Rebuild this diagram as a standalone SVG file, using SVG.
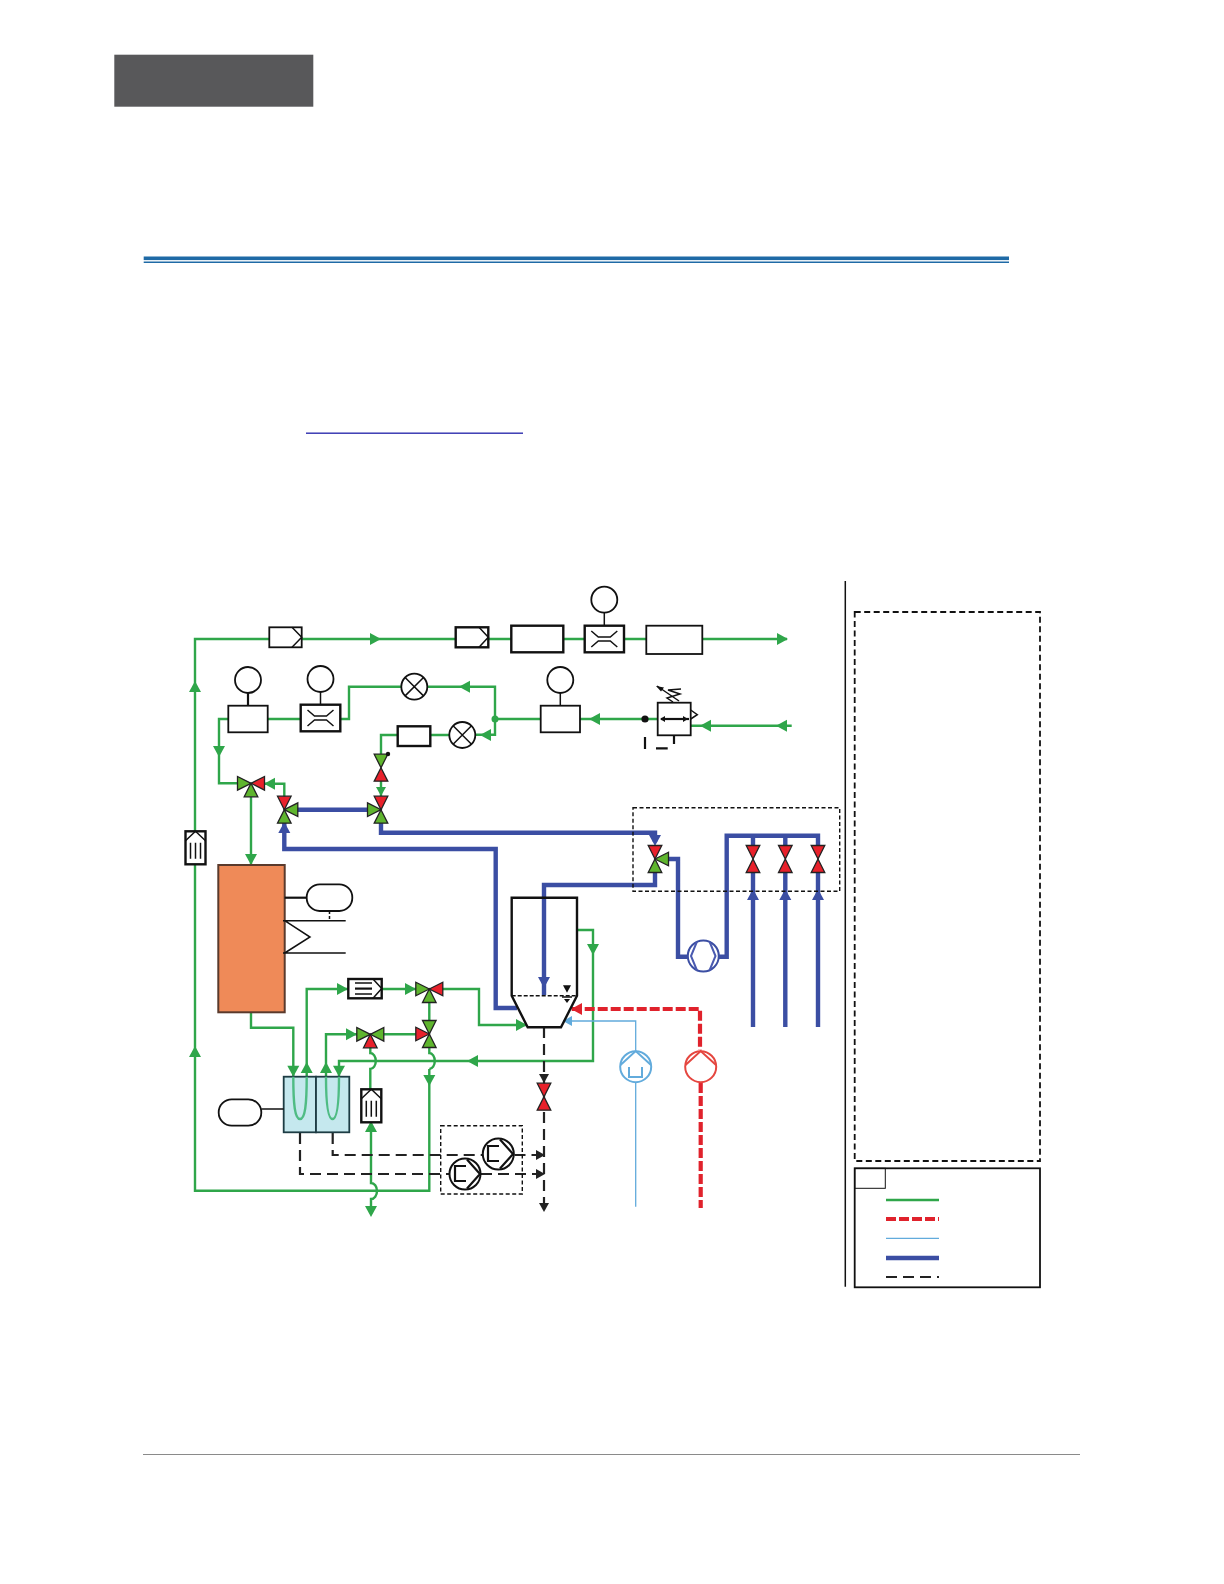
<svg xmlns="http://www.w3.org/2000/svg" xmlns:xlink="http://www.w3.org/1999/xlink" width="1224" height="1584" viewBox="0 0 1224 1584">
<style>
.pg{fill:none;stroke:#2fa64a;stroke-width:2.4}
.pb{fill:none;stroke:#3b4ea3;stroke-width:4.4}
.pr{fill:none;stroke:#e0222c;stroke-width:4.2;stroke-dasharray:10 3}
.pl{fill:none;stroke:#62abdc;stroke-width:1.3}
.pk{fill:none;stroke:#222;stroke-width:2.2;stroke-dasharray:11 6}
.box{fill:#fff;stroke:#111;stroke-width:1.8}
.bx2{fill:#fff;stroke:#111;stroke-width:2.4}
.ln{fill:none;stroke:#111;stroke-width:1.5}
.ln2{fill:none;stroke:#111;stroke-width:2.2}
.dash{fill:none;stroke:#111;stroke-width:1.4;stroke-dasharray:4 2.500}
.vg{fill:#5fb52e;stroke:#222;stroke-width:1.3}
.vr{fill:#e8212b;stroke:#222;stroke-width:1.3}
.ag{fill:#2fa64a}.ab{fill:#3b4ea3}.ar{fill:#e0222c}.al{fill:#62abdc}.ak{fill:#222}
</style>
<defs>
<polygon id="t" points="0,0 -6.800,-13.500 6.800,-13.500"/>
<polygon id="a" points="0,0 -9,-5 -9,5"/>
<polygon id="A" points="0,0 -11,-6 -11,6"/>
<g id="flt"><rect class="bx2" x="-10" y="-16.500" width="20" height="33"/><path class="ln" d="M-10,-7 L0,-16.500 L10,-7"/><path class="ln" d="M-5,-5V11M0,-5V11M5,-5V11"/></g>
<g id="flow"><path class="ln" d="M-13,-8 L-6,-2 H6 L13,-8M-13,8 L-6,2 H6 L13,8"/></g>
</defs>
<rect width="1224" height="1584" fill="#fff"/>
<rect x="114.300" y="54.700" width="199" height="52" fill="#58585a"/>
<rect x="143.700" y="256.500" width="865.300" height="3.600" fill="#1f6aa6"/>
<rect x="143.700" y="261.500" width="865.300" height="1.500" fill="#1f6aa6"/>
<rect x="306" y="432.500" width="217" height="1.400" fill="#2f2fae"/>
<rect x="143" y="1454" width="937" height="1" fill="#8a8a8a"/>

<g id="connectors">
<path class="pg" d="M195,864V1190.700H429.300V1069"/>
<path class="pg" d="M429.300,1047V1053a5.500,8 0 0 1 0,16"/>
<path class="pg" d="M195,831.700V639H269M302,639H456M488,639H511M563,639H585M624,639H646M702,639H787"/>
<path class="pg" d="M371,1122V1183a6,8 0 0 1 0,16V1214"/>
<path class="pg" d="M370.300,1047V1053a5.500,8 0 0 1 0,16V1089"/>
<path class="pg" d="M267.700,719H300.700M340.300,719H349V686.700H401M427,686.700H495V734.700H475M495,719H540.700M580,719H657.700M690.700,725.700H791.700"/>
<path class="pg" d="M449.300,735H430M398,735H381V754M381,781V796"/>
<path class="pg" d="M228.300,719H219V783.300H238M284.300,797V783.700H264M251,797V865"/>
<path class="pg" d="M251,1012.300V1027.700H293.300V1076.700"/>
<path class="pg" d="M306.700,1076.700V989H348M381.700,989H416M442,989H479V1025H527"/>
<path class="pg" d="M326,1076.700V1034.300H357M384,1034.300H416M429.300,1002V1020"/>
<path class="pg" d="M577,930H593V1061H339V1076.700"/>
<path class="pb" d="M297,809.700H368M284.300,823V849H495.700V1008H517M381,823V832.700H655V842M668,859H678V956.700H687M719,956.700H726.700V835.700H818V846M753,835.700V846M785.300,835.700V846M753,872V1027M785.300,872V1027M818,872V1027M655,872V885H544V995"/>
<path class="pr" d="M571.700,1009H700V1050"/>
<path class="pr" d="M700.700,1083V1208"/>
<path class="pl" d="M563,1021H635.700V1050M635.700,1083V1206.700"/>
<path class="pk" d="M544,1027V1208"/>
<path class="pk" d="M332.700,1133V1155H482M514.500,1155H544"/>
<path class="pk" d="M300,1133V1174H449M481,1174H544"/>
<g class="ag">
<use href="#A" transform="translate(381,639)"/><use href="#A" transform="translate(195,681) rotate(-90)"/><use href="#A" transform="translate(195,1046) rotate(-90)"/>
<use href="#A" transform="translate(788,639)"/><use href="#A" transform="translate(459,686.700) rotate(180)"/><use href="#A" transform="translate(480,735) rotate(180)"/>
<use href="#a" transform="translate(381,796) rotate(90)"/><use href="#A" transform="translate(219,757) rotate(90)"/><use href="#A" transform="translate(264,783.700) rotate(180)"/>
<use href="#A" transform="translate(251,865) rotate(90)"/><use href="#A" transform="translate(589,719) rotate(180)"/><use href="#A" transform="translate(700,725.700) rotate(180)"/><use href="#A" transform="translate(776,725.700) rotate(180)"/>
<use href="#A" transform="translate(293.300,1076.700) rotate(90)"/><use href="#A" transform="translate(306.700,1062) rotate(-90)"/><use href="#A" transform="translate(326,1062) rotate(-90)"/><use href="#A" transform="translate(339,1076.700) rotate(90)"/>
<use href="#A" transform="translate(348,989)"/><use href="#A" transform="translate(416,989)"/><use href="#A" transform="translate(357,1034.300)"/><use href="#A" transform="translate(429.300,1086) rotate(90)"/>
<use href="#A" transform="translate(371,1121) rotate(-90)"/><use href="#A" transform="translate(371,1217) rotate(90)"/><use href="#A" transform="translate(527,1025)"/><use href="#A" transform="translate(593,955) rotate(90)"/><use href="#A" transform="translate(467,1061) rotate(180)"/>
</g>
<g class="ab">
<use href="#A" transform="translate(284.300,822) rotate(-90)"/><use href="#A" transform="translate(655,846) rotate(90)"/><use href="#A" transform="translate(544,988) rotate(90)"/>
<use href="#A" transform="translate(753,889) rotate(-90)"/><use href="#A" transform="translate(785.300,889) rotate(-90)"/><use href="#A" transform="translate(818,889) rotate(-90)"/>
</g>
<use href="#A" class="ar" transform="translate(571,1009) rotate(180)"/>
<use href="#a" class="al" transform="translate(563,1021) rotate(180)"/>
<g class="ak">
<use href="#a" transform="translate(544,1083) rotate(90)"/><use href="#a" transform="translate(544,1212) rotate(90)"/>
<use href="#a" transform="translate(545,1155)"/><use href="#a" transform="translate(545,1174)"/>
</g>
</g>

<g id="dashed-frames">
<rect class="dash" x="633" y="807.700" width="206.700" height="83.600"/>
<rect class="dash" x="440.700" y="1125.700" width="81.600" height="68.300"/>
</g>

<g id="inst-1"><rect class="box" x="269.300" y="627.300" width="32.400" height="20"/><path class="ln" d="M292,627.300L301.700,637.300L292,647.300"/></g>
<g id="inst-2"><rect class="bx2" x="455.700" y="627.300" width="32.600" height="20"/><path class="ln" d="M479,627.300L488.300,637.300L479,647.300"/></g>
<g id="box-top-1"><rect class="bx2" x="511.300" y="625.700" width="52" height="26.600"/></g>
<g id="flow-top"><rect class="bx2" x="584.700" y="625.700" width="39.300" height="26.600"/><use href="#flow" transform="translate(604.300,639)"/><path class="ln" d="M604.300,625.700V612.700"/><circle class="box" cx="604.300" cy="599.700" r="13"/></g>
<g id="box-top-2"><rect class="box" x="646.300" y="625.700" width="56" height="28.300"/></g>
<g id="sensor-left"><rect class="box" x="228.300" y="705.700" width="39.400" height="26.600"/><path class="ln2" d="M248,705.700V693"/><circle class="box" cx="248" cy="680" r="13"/></g>
<g id="flow-left"><rect class="bx2" x="300.700" y="704.700" width="39.600" height="26.600"/><use href="#flow" transform="translate(320.500,718)"/><path class="ln" d="M320.500,704.700V692"/><circle class="box" cx="320.500" cy="679" r="13"/></g>
<g id="sensor-right"><rect class="box" x="540.700" y="705.700" width="39.300" height="26.600"/><path class="ln" d="M560.300,705.700V693"/><circle class="box" cx="560.300" cy="680" r="13"/></g>
<g id="lamp-1"><circle class="box" cx="414.300" cy="686.700" r="13"/><path class="ln" d="M405.100,677.500L423.500,695.900M423.500,677.500L405.100,695.900"/></g>
<g id="lamp-2"><circle class="box" cx="462.300" cy="735" r="13"/><path class="ln" d="M453.100,725.800L471.500,744.200M471.500,725.800L453.100,744.200"/></g>
<g id="box-mid"><rect class="bx2" x="397.700" y="726.300" width="32.600" height="19.700"/></g>
<g id="join-dot"><circle cx="495" cy="719" r="3.500" fill="#2fa64a"/></g>
<g id="regulator">
<circle cx="645" cy="719" r="3.600" fill="#111"/>
<path class="ln2" d="M645,737V749M656,748.300H667.700M674,736V744"/>
<rect class="box" x="657.700" y="702.700" width="33" height="32.600"/>
<path class="ln2" d="M661,719H689"/>
<path fill="#111" d="M660,719l5,-3v6zM688,719l-5,-3v6z"/>
<path class="ln" d="M673,702L667,698L680,694L668,690L681,689"/>
<path class="ln" d="M690.700,710L697.300,714.700L690.700,719"/>
<path class="ln" d="M679,701L657,686"/><path fill="#111" d="M656,686l8,1.500l-3,4z"/>
</g>

<g id="valve-a"><use href="#t" class="vg" transform="translate(251,783.300) rotate(-90)"/><use href="#t" class="vr" transform="translate(251,783.300) rotate(90)"/><use href="#t" class="vg" transform="translate(251,783.300) rotate(180)"/></g>
<g id="valve-b"><use href="#t" class="vr" transform="translate(284.300,809.700)"/><use href="#t" class="vg" transform="translate(284.300,809.700) rotate(180)"/><use href="#t" class="vg" transform="translate(284.300,809.700) rotate(90)"/></g>
<g id="valve-c"><use href="#t" class="vr" transform="translate(381,809.700)"/><use href="#t" class="vg" transform="translate(381,809.700) rotate(180)"/><use href="#t" class="vg" transform="translate(381,809.700) rotate(-90)"/></g>
<g id="valve-d"><use href="#t" class="vg" transform="translate(381,767.700)"/><use href="#t" class="vr" transform="translate(381,767.700) rotate(180)"/><circle cx="388" cy="754" r="2.200" fill="#111"/></g>
<g id="valve-e"><use href="#t" class="vr" transform="translate(655,859)"/><use href="#t" class="vg" transform="translate(655,859) rotate(180)"/><use href="#t" class="vg" transform="translate(655,859) rotate(90)"/></g>
<g id="valve-f"><use href="#t" class="vr" transform="translate(753,859)"/><use href="#t" class="vr" transform="translate(753,859) rotate(180)"/></g>
<g id="valve-g"><use href="#t" class="vr" transform="translate(785.300,859)"/><use href="#t" class="vr" transform="translate(785.300,859) rotate(180)"/></g>
<g id="valve-h"><use href="#t" class="vr" transform="translate(818,859)"/><use href="#t" class="vr" transform="translate(818,859) rotate(180)"/></g>
<g id="valve-i"><use href="#t" class="vg" transform="translate(429.300,989) rotate(-90)"/><use href="#t" class="vr" transform="translate(429.300,989) rotate(90)"/><use href="#t" class="vg" transform="translate(429.300,989) rotate(180)"/></g>
<g id="valve-j"><use href="#t" class="vg" transform="translate(429.300,1034)"/><use href="#t" class="vg" transform="translate(429.300,1034) rotate(180)"/><use href="#t" class="vr" transform="translate(429.300,1034) rotate(-90)"/></g>
<g id="valve-k"><use href="#t" class="vg" transform="translate(370.300,1034.300) rotate(90)"/><use href="#t" class="vg" transform="translate(370.300,1034.300) rotate(-90)"/><use href="#t" class="vr" transform="translate(370.300,1034.300) rotate(180)"/></g>
<g id="valve-l"><use href="#t" class="vr" transform="translate(544,1096.700)"/><use href="#t" class="vr" transform="translate(544,1096.700) rotate(180)"/></g>

<g id="filter-left"><use href="#flt" transform="translate(195.500,847.800)"/></g>
<g id="filter-low"><use href="#flt" transform="translate(371.300,1105.800)"/></g>

<g id="heater"><rect x="218.300" y="865" width="66.400" height="147.300" fill="#ef8a58" stroke="#5a3a2c" stroke-width="2"/></g>
<g id="tank-top"><path class="ln2" d="M284.700,897.700H306.700"/><rect class="box" x="306.700" y="884.300" width="45.600" height="26.700" rx="13"/><path class="ln" stroke-dasharray="3 2" d="M329.500,911V921"/><path class="ln" d="M283,920.700H345.700M283,953H345.700M284.700,920.700L310,937L284.700,953"/></g>
<g id="strainer"><rect class="bx2" x="348.300" y="979" width="33.400" height="19.300"/><path class="ln" d="M373,979L381.700,988.600L373,998.300"/><path class="ln" d="M355,983H372M355,994H372"/><path class="ln2" d="M355,988.600H372"/></g>
<g id="exchanger">
<rect x="283.700" y="1076.700" width="32.300" height="55.600" fill="#c5e8ee" stroke="#1d3c44" stroke-width="1.800"/>
<rect x="316" y="1076.700" width="33.300" height="55.600" fill="#c5e8ee" stroke="#1d3c44" stroke-width="1.800"/>
<path fill="none" stroke="#4fbc84" stroke-width="2.400" d="M293.300,1076.700C293.300,1105 295,1119 300,1119C305,1119 306.700,1105 306.700,1076.700M326,1076.700C326,1105 328,1119 332.500,1119C337,1119 339,1105 339,1076.700"/>
</g>
<g id="tank-low"><rect class="box" x="218.700" y="1099.300" width="42.600" height="26.400" rx="13"/><path class="ln" d="M261.300,1109H283.700"/></g>
<g id="vessel"><path fill="none" stroke="#111" stroke-width="2.400" d="M511.700,897.700H577V995.700L561,1027.300H527.700L511.700,995.700Z"/><path class="ln" stroke-dasharray="4 2" d="M511.700,995.700H577"/><path fill="#111" d="M563,985.300H571L567,992.700Z"/><path class="ln" d="M562,997H572"/><path fill="#111" d="M564,999H570L567,1003Z"/></g>
<g id="pump-blue"><circle cx="703.300" cy="956" r="15.500" fill="#fff" stroke="#3b4ea3" stroke-width="2"/><path fill="none" stroke="#4a5ab0" stroke-width="2" d="M697,941.500L691,956L697,970.500M709.500,941.500L715.500,956L709.500,970.500"/></g>
<g id="pump-red"><circle cx="700.700" cy="1066.700" r="15.500" fill="#fff" stroke="#e5463f" stroke-width="2"/><path fill="none" stroke="#e5463f" stroke-width="2" d="M685.500,1065L700.700,1051L716,1065"/></g>
<g id="pump-lblue"><circle cx="635.700" cy="1066.700" r="15.500" fill="#fff" stroke="#62abdc" stroke-width="2"/><path fill="none" stroke="#62abdc" stroke-width="2" d="M620.500,1065L635.700,1051L651,1065"/><path fill="none" stroke="#62abdc" stroke-width="2" d="M629,1067V1077H642V1067"/></g>
<g id="pump-k1"><circle cx="498.300" cy="1154" r="15.500" fill="#fff" stroke="#111" stroke-width="2"/><path class="ln2" d="M500,1139.500L513,1154L500,1168.500"/><path class="ln2" d="M499,1146H488V1161H499"/></g>
<g id="pump-k2"><circle cx="465" cy="1174" r="15.500" fill="#fff" stroke="#111" stroke-width="2"/><path class="ln2" d="M467,1159.500L480,1174L467,1188.500"/><path class="ln2" d="M466,1166H455V1181H466"/></g>

<g id="legend">
<path class="ln" d="M845.300,581V1286.700"/>
<rect x="854.700" y="612" width="185.300" height="549" fill="none" stroke="#111" stroke-width="1.800" stroke-dasharray="6 3.500"/>
<rect x="854.700" y="1168.300" width="185.300" height="119" fill="none" stroke="#111" stroke-width="1.800"/>
<rect x="854.700" y="1168.300" width="30.600" height="20" fill="none" stroke="#111" stroke-width="1"/>
<path class="pg" d="M886,1200H939"/>
<path class="pr" d="M886,1219H939"/>
<path class="pl" d="M886,1238.300H939"/>
<path class="pb" d="M886,1258H939"/>
<path class="pk" d="M886,1277H939"/>
</g>
</svg>
